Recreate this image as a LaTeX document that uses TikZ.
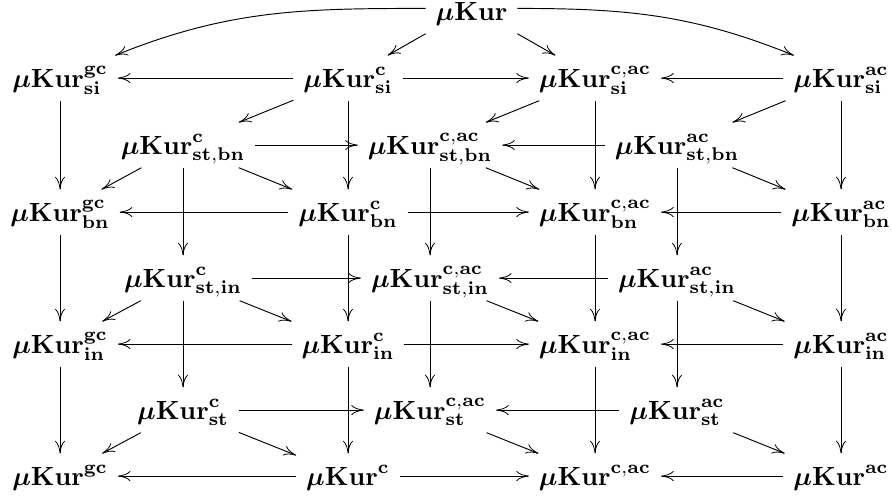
\documentclass[tikz,border=0pt]{standalone}
\usepackage{amsmath}
\usetikzlibrary{arrows.meta}

% bold mu-Kur symbol with superscript and subscript
\newcommand{\mkur}[2]{$\boldsymbol{\mu}\mathbf{Kur}^{\mathbf{#1}}_{\mathbf{#2}}$}

\begin{document}
\begin{tikzpicture}[x=0.38pt,y=-0.38pt,
  obj/.style={anchor=base, inner xsep=3.6pt, inner ysep=3.3pt,
              text height=8.5pt, text depth=1.7pt},
  arr/.style={-{Computer Modern Rightarrow[length=4.8pt,width=3.8pt,line width=0.3pt]}, line width=0.36pt}]
\useasboundingbox (0,0) rectangle (892,496);

% columns: outer faces and the inner (st) layer
\def\cG{60}\def\cSC{183}\def\cC{348}\def\cSCA{430}\def\cCA{595}\def\cSA{677}\def\cA{841}
% baselines of the rows
\def\rT{20}\def\rSI{87}\def\rSB{154}\def\rBN{221}\def\rSN{287}\def\rIN{353}\def\rST{419}\def\rB{485}

\node[obj] (top) at (471.5,\rT) {$\boldsymbol{\mu}\mathbf{Kur}$};

\node[obj] (sigc) at (\cG,\rSI)  {\mkur{gc}{si}};
\node[obj] (sic)  at (\cC,\rSI)  {\mkur{c}{si}};
\node[obj] (sica) at (\cCA,\rSI) {\mkur{c,ac}{si}};
\node[obj] (sia)  at (\cA,\rSI)  {\mkur{ac}{si}};

\node[obj] (sbc)  at (\cSC,\rSB)  {\mkur{c}{st,bn}};
\node[obj] (sbca) at (\cSCA,\rSB) {\mkur{c,ac}{st,bn}};
\node[obj] (sba)  at (\cSA,\rSB)  {\mkur{ac}{st,bn}};

\node[obj] (bngc) at (\cG,\rBN)  {\mkur{gc}{bn}};
\node[obj] (bnc)  at (\cC,\rBN)  {\mkur{c}{bn}};
\node[obj] (bnca) at (\cCA,\rBN) {\mkur{c,ac}{bn}};
\node[obj] (bna)  at (\cA,\rBN)  {\mkur{ac}{bn}};

\node[obj] (snc)  at (\cSC,\rSN)  {\mkur{c}{st,in}};
\node[obj] (snca) at (\cSCA,\rSN) {\mkur{c,ac}{st,in}};
\node[obj] (sna)  at (\cSA,\rSN)  {\mkur{ac}{st,in}};

\node[obj] (ingc) at (\cG,\rIN)  {\mkur{gc}{in}};
\node[obj] (inc)  at (\cC,\rIN)  {\mkur{c}{in}};
\node[obj] (inca) at (\cCA,\rIN) {\mkur{c,ac}{in}};
\node[obj] (ina)  at (\cA,\rIN)  {\mkur{ac}{in}};

\node[obj] (stc)  at (\cSC,\rST)  {\mkur{c}{st}};
\node[obj] (stca) at (\cSCA,\rST) {\mkur{c,ac}{st}};
\node[obj] (sta)  at (\cSA,\rST)  {\mkur{ac}{st}};

\node[obj] (gc) at (\cG,\rB)  {$\boldsymbol{\mu}\mathbf{Kur}^{\mathbf{gc}}$};
\node[obj] (c)  at (\cC,\rB)  {$\boldsymbol{\mu}\mathbf{Kur}^{\mathbf{c}}$};
\node[obj] (ca) at (\cCA,\rB) {$\boldsymbol{\mu}\mathbf{Kur}^{\mathbf{c,ac}}$};
\node[obj] (a)  at (\cA,\rB)  {$\boldsymbol{\mu}\mathbf{Kur}^{\mathbf{ac}}$};

% from the top
\draw[arr] ([yshift=1pt]top.west) to[out=180,in=22] ([xshift=-1pt]sigc.north east);
\draw[arr] ([yshift=1pt]top.east) to[out=0,in=158] ([xshift=4pt]sia.north west);
\draw[arr] (top.south west) -- (sic);
\draw[arr] (top.south east) -- (sica);

% si row
\draw[arr] (sic) -- (sigc);
\draw[arr] (sic) -- (sica);
\draw[arr] (sia) -- (sica);
\draw[arr] (sic) -- (sbc);
\draw[arr] (sica) -- (sbca);
\draw[arr] (sia) -- (sba);
\draw[arr] (sigc) -- (bngc);
\draw[arr] (sic) -- (bnc);
\draw[arr] (sica) -- (bnca);
\draw[arr] (sia) -- (bna);

% st,bn layer
\draw[arr] (sbc) -- (sbca);
\draw[arr] (sba) -- (sbca);
\draw[arr] (sbc) -- (bngc);
\draw[arr] (sbc) -- (bnc);
\draw[arr] (sbca) -- (bnca);
\draw[arr] (sba) -- (bna);
\draw[arr] (sbc) -- (snc);
\draw[arr] (sbca) -- (snca);
\draw[arr] (sba) -- (sna);

% bn row
\draw[arr] (bnc) -- (bngc);
\draw[arr] (bnc) -- (bnca);
\draw[arr] (bna) -- (bnca);
\draw[arr] (bngc) -- (ingc);
\draw[arr] (bnc) -- (inc);
\draw[arr] (bnca) -- (inca);
\draw[arr] (bna) -- (ina);

% st,in layer
\draw[arr] (snc) -- (snca);
\draw[arr] (sna) -- (snca);
\draw[arr] (snc) -- (ingc);
\draw[arr] (snc) -- (inc);
\draw[arr] (snca) -- (inca);
\draw[arr] (sna) -- (ina);
\draw[arr] (snc) -- (stc);
\draw[arr] (snca) -- (stca);
\draw[arr] (sna) -- (sta);

% in row
\draw[arr] (inc) -- (ingc);
\draw[arr] (inc) -- (inca);
\draw[arr] (ina) -- (inca);
\draw[arr] (ingc) -- (gc);
\draw[arr] (inc) -- (c);
\draw[arr] (inca) -- (ca);
\draw[arr] (ina) -- (a);

% st layer
\draw[arr] (stc) -- (stca);
\draw[arr] (sta) -- (stca);
\draw[arr] (stc) -- (gc);
\draw[arr] (stc) -- (c);
\draw[arr] (stca) -- (ca);
\draw[arr] (sta) -- (a);

% bottom row
\draw[arr] (c) -- (gc);
\draw[arr] (c) -- (ca);
\draw[arr] (a) -- (ca);
\end{tikzpicture}
\end{document}
